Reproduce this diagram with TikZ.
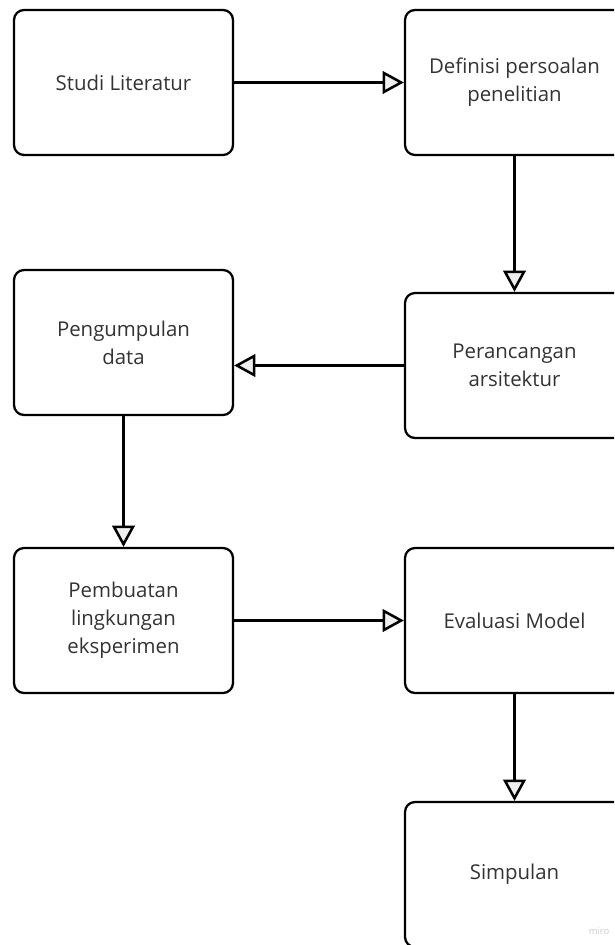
\documentclass[tikz,border=0pt]{standalone}
\usepackage{fontspec}
\setmainfont{Open Sans}
\usetikzlibrary{positioning,arrows.meta}

\definecolor{boxtext}{HTML}{333333}
\definecolor{tipfill}{HTML}{EEEEEE}
\definecolor{wmgray}{HTML}{C8C8C8}

\tikzset{
	stepbox/.style={draw, line width=1.7pt, rounded corners=7.5pt, minimum width=164.25pt,
		minimum height=108.75pt, align=center, text=boxtext, inner sep=0pt,
		font=\fontsize{15.3pt}{21pt}\selectfont},
	flow/.style={line width=1.9pt, -{Triangle[length=16pt, width=17pt, fill=tipfill]}}
}

\begin{document}
\begin{tikzpicture}[x=0.75pt, y=-0.75pt]
	\useasboundingbox (0, 0) rectangle (614, 945);
	\clip (0, 0) rectangle (614, 945);

	% Nodes:
	\node[stepbox] (studi) at (123.5, 82.5) {Studi Literatur};
	\node[stepbox] (definisi) at (514.5, 82.5) {Definisi persoalan\\penelitian};
	\node[stepbox] (perancangan) at (514.5, 365.5) {Perancangan\\arsitektur};
	\node[stepbox] (pengumpulan) at (123.5, 342.5) {Pengumpulan\\data};
	\node[stepbox] (pembuatan) at (123.5, 620.5) {Pembuatan\\lingkungan\\eksperimen};
	\node[stepbox] (evaluasi) at (514.5, 620.5) {Evaluasi Model};
	\node[stepbox] (simpulan) at (514.5, 874.5) {Simpulan};

	% Lines:
	\draw[flow] (studi) -- (definisi);
	\draw[flow] (definisi) -- (perancangan);
	\draw[flow] (perancangan.west) -- (perancangan.west -| pengumpulan.east);
	\draw[flow] (pengumpulan) -- (pembuatan);
	\draw[flow] (pembuatan) -- (evaluasi);
	\draw[flow] (evaluasi) -- (simpulan);

	% Labels:
	\node[text=wmgray, font=\fontsize{7pt}{8pt}\selectfont] (wm) at (599, 931) {miro};

\end{tikzpicture}
\end{document}
